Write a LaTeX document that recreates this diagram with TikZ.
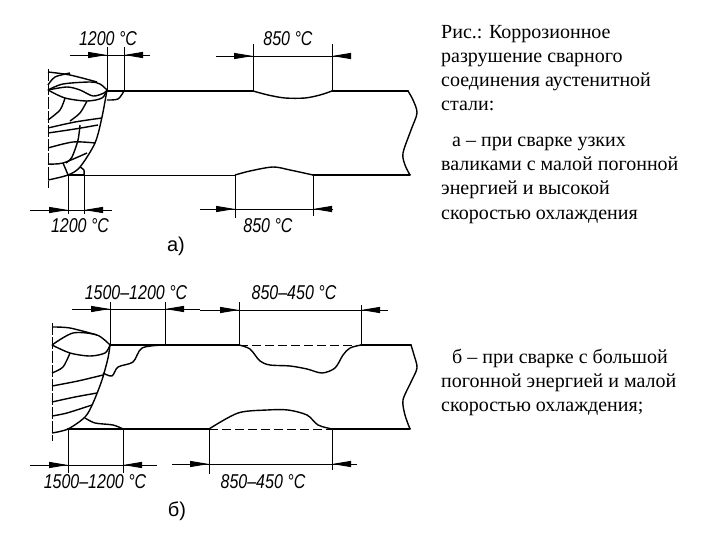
\documentclass[tikz,border=0pt]{standalone}
\usepackage{fontspec}
\setmainfont{Liberation Serif}
\setsansfont{Liberation Sans}
\usetikzlibrary{arrows.meta,positioning}
\tikzstyle{plate} = [line width=2pt, line cap=round]
\tikzstyle{seam} = [line width=1.4pt, line join=round]
\tikzstyle{thin line} = [line width=0.9pt]
\tikzstyle{hidden line} = [line width=0.8pt, dash pattern=on 9pt off 4pt]
\tikzstyle{axis line} = [line width=0.8pt, dash pattern=on 12pt off 2pt]
\tikzstyle{dimarrow} = [line width=0.9pt, -{Stealth[length=19pt,width=6pt,inset=0pt]}]
\tikzstyle{templabel} = [font=\sffamily\itshape\fontsize{20}{20}\selectfont, inner sep=0pt, xscale=0.8, transform shape]
\tikzstyle{sublabel} = [font=\sffamily\fontsize{20}{20}\selectfont, inner sep=0pt]
\tikzstyle{caption} = [font=\fontsize{20}{24}\selectfont, anchor=base west, inner sep=0pt]
\begin{document}
\begin{tikzpicture}[x=1pt,y=-1pt]
\useasboundingbox (0,0) rectangle (720,540);
\fill[white] (0,0) rectangle (720,540);

% --- joint a
\draw[axis line] (48,69) -- (48,188);
\draw[plate] (107,91) -- (253,91);
\draw[plate] (332,91) -- (408,91);
\draw[thin line] (84,175) -- (235,175);
\draw[plate] (68,175) -- (84,175);
\draw[plate] (313,175) -- (410,175);
\draw[seam] plot[smooth] coordinates {(408,91) (413,100) (417,113) (411,130) (403,153) (405,165) (410,175)};
\draw[seam] plot[smooth] coordinates {(253,91) (268,95) (285,98) (305,98) (320,95) (332,91)};
\draw[seam] plot[smooth] coordinates {(235,175) (250,171) (273,167) (290,170) (313,175)};
% beads a
\draw[seam] plot[smooth] coordinates {(48,90) (63,84) (90,82) (100,84) (107,90)};
\draw[seam] plot[smooth] coordinates {(48,90) (67,87) (80,90) (93,96) (104,93) (107,90)};
\draw[seam] plot[smooth] coordinates {(48,90) (65,98) (87,101) (102,98) (107,90)};
\draw[seam] plot[smooth] coordinates {(48,72) (70,75) (97,82)};
\draw[seam] plot[smooth] coordinates {(48,85) (55,77) (70,73)};
\draw[seam] plot[smooth] coordinates {(107,90) (102,117) (95,143) (80,167) (68,175) (48,180)};
\draw[seam] plot[smooth] coordinates {(65,98) (60,110) (48,120)};
\draw[seam] plot[smooth] coordinates {(87,101) (80,113) (70,121)};
\draw[seam] plot[smooth] coordinates {(48,128) (75,122) (102,118)};
\draw[seam] plot[smooth] coordinates {(48,133) (75,129) (98,125)};
\draw[seam] plot[smooth] coordinates {(80,125) (78,140) (72,157) (66,163)};
\draw[seam] plot[smooth] coordinates {(48,148) (73,142) (95,143)};
\draw[seam] plot[smooth] coordinates {(48,164) (63,163) (87,153)};
\draw[seam] plot[smooth] coordinates {(63,163) (66,170) (68,175)};
\draw[seam] plot[smooth] coordinates {(80,167) (84,170) (84,175)};
\draw[seam] plot[smooth] coordinates {(107,100) (118,99) (124,91)};

% --- joint b
\draw[axis line] (52,323) -- (52,441);
\draw[plate] (110,345) -- (239,345);
\draw[plate] (361,345) -- (411,345);
\draw[plate] (68,429) -- (209,429);
\draw[plate] (332,429) -- (410,429);
\draw[hidden line] (239,345) -- (361,345);
\draw[hidden line] (209,429) -- (332,429);
\draw[seam] plot[smooth] coordinates {(411,345) (414,355) (417,368) (411,382) (403,400) (405,415) (410,429)};
\draw[seam] plot[smooth] coordinates {(239,345) (250,349) (260,361) (270,365) (290,366) (307,369) (322,373) (335,368) (343,355) (350,348) (361,345)};
\draw[seam] plot[smooth] coordinates {(209,429) (238,413) (267,410) (288,410) (307,415) (318,425) (332,429)};
% beads b
\draw[seam] plot[smooth] coordinates {(52,345) (73,333) (97,335) (110,345)};
\draw[seam] plot[smooth] coordinates {(52,345) (70,353) (90,356) (105,353) (110,345)};
\draw[seam] plot[smooth] coordinates {(52,327) (70,328) (97,335)};
\draw[seam] plot[smooth] coordinates {(110,345) (108,358) (102,380) (93,403) (85,417) (68,429) (52,433)};
\draw[seam] plot[smooth] coordinates {(70,353) (63,367) (52,373)};
\draw[seam] plot[smooth] coordinates {(52,386) (78,381) (103,375)};
\draw[seam] plot[smooth] coordinates {(52,402) (75,397) (97,393)};
\draw[seam] plot[smooth] coordinates {(52,416) (67,413) (92,405)};
\draw[seam] plot[smooth] coordinates {(103,373) (112,376) (118,367) (133,362) (142,348) (163,345)};
\draw[seam] plot[smooth] coordinates {(85,418) (95,423) (113,425) (123,429)};

% extension lines
\foreach \x/\ya/\yb in {107/47/91,124/47/91,253/44/91,332/44/91,68/175/214,84/175/214,235/175/218,313/175/216,
  110/302/345,165/302/345,239/302/345,361/305/345,68/429/473,123/429/473,209/429/474,332/429/470}
  \draw[thin line] (\x,\ya) -- (\x,\yb);
% dimension lines
\foreach \xa/\xb/\y in {70/150/55,216/350/56,30/112/210,200/332/209,72/200/309,200/388/310,30/157/465,172/357/464}
  \draw[thin line] (\xa,\y) -- (\xb,\y);
\foreach \xa/\xb/\y in {80/107/55,142/124/55,225/253/56,350/332/56,40/68/210,105/84/210,205/235/209,332/313/209,
  85/110/309,187/165/309,210/239/310,382/361/310,40/68/465,146/123/465,180/209/464,352/332/464}
  \draw[dimarrow] (\xa,\y) -- (\xb,\y);

% temperature labels
\node[templabel] (tempa1) at (108,39) {1200 °C};
\node[templabel] (tempa2) at (288,39) {850 °C};
\node[templabel] (tempa3) at (80,226) {1200 °C};
\node[templabel] (tempa4) at (268,226) {850 °C};
\node[templabel] (tempb1) at (136,293) {1500–1200 °C};
\node[templabel] (tempb2) at (294,293) {850–450 °C};
\node[templabel] (tempb3) at (95,482) {1500–1200 °C};
\node[templabel] (tempb4) at (263,482) {850–450 °C};
\node[sublabel] (suba) at (176,246) {а)};
\node[sublabel] (subb) at (177,511) {б)};

% caption
\node[caption] (cap1) at (441,39) {Рис.: Коррозионное};
\node[caption] (cap2) at (441,63) {разрушение сварного};
\node[caption] (cap3) at (441,87) {соединения аустенитной};
\node[caption] (cap4) at (441,111) {стали:};
\node[caption] (cap5) at (452,147) {а – при сварке узких};
\node[caption] (cap6) at (441,171) {валиками с малой погонной};
\node[caption] (cap7) at (441,195) {энергией и высокой};
\node[caption] (cap8) at (441,219) {скоростью охлаждения};
\node[caption] (cap9) at (452,363) {б – при сварке с большой};
\node[caption] (cap10) at (441,387) {погонной энергией и малой};
\node[caption] (cap11) at (441,411) {скоростью охлаждения;};
\end{tikzpicture}
\end{document}
